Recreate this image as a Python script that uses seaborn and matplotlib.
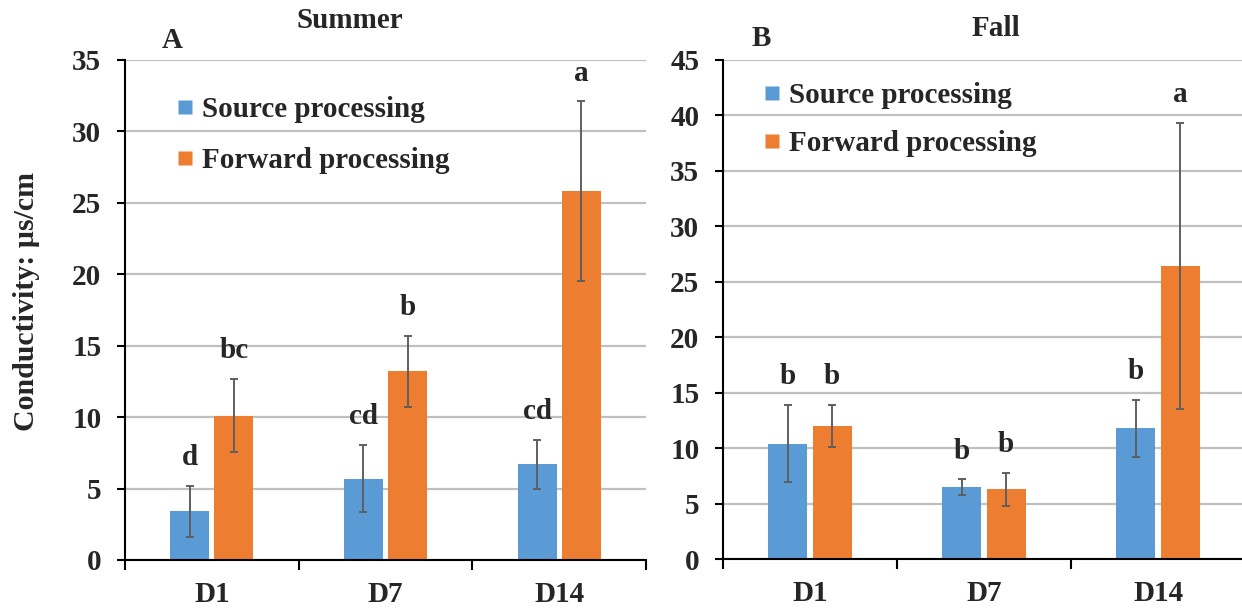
import matplotlib
matplotlib.use("Agg")
import matplotlib.pyplot as plt
from matplotlib.lines import Line2D
import seaborn as sns
import pandas as pd

# ---------------- data ----------------
days = ["D1", "D7", "D14"]
groups = ["Source processing", "Forward processing"]

summer_source = [3.4, 5.7, 6.7]
summer_source_err = [1.78, 2.37, 1.72]
summer_forward = [10.1, 13.2, 25.8]
summer_forward_err = [2.55, 2.48, 6.3]
summer_source_letters = ["d", "cd", "cd"]
summer_forward_letters = ["bc", "b", "a"]

fall_source = [10.4, 6.45, 11.8]
fall_source_err = [3.47, 0.72, 2.57]
fall_forward = [12.0, 6.28, 26.4]
fall_forward_err = [1.86, 1.46, 12.9]
fall_source_letters = ["b", "b", "b"]
fall_forward_letters = ["b", "b", "a"]

summer_yticks = [0, 5, 10, 15, 20, 25, 30, 35]
fall_yticks = [0, 5, 10, 15, 20, 25, 30, 35, 40, 45]

# ---------------- style ----------------
sns.set_style("white")
plt.rcParams["font.family"] = ["Liberation Serif", "DejaVu Serif"]
plt.rcParams["font.weight"] = "bold"

BLUE = "#5B9BD5"
ORANGE = "#ED7D31"
GRID = "#C0C0C0"
ERR = "#5F5F5F"
FS = 21

W, H = 1242, 611
fig = plt.figure(figsize=(W / 100, H / 100), dpi=100)


def px_axes(l, t, r, b):
    return fig.add_axes([l / W, 1 - b / H, (r - l) / W, (b - t) / H])


def panel(ax, src, src_err, fwd, fwd_err, src_let, fwd_let, yticks, legend_anchor, spacing):
    df = pd.DataFrame({
        "day": days * 2,
        "group": [groups[0]] * 3 + [groups[1]] * 3,
        "value": src + fwd,
    })
    sns.barplot(data=df, x="day", y="value", hue="group", hue_order=groups,
                order=days, palette=[BLUE, ORANGE], width=0.51, gap=0.12,
                errorbar=None, ax=ax, legend=False, saturation=1,
                edgecolor="none", zorder=2)
    errs = [src_err, fwd_err]
    lets = [src_let, fwd_let]
    bar_containers = list(ax.containers)
    for ci, cont in enumerate(bar_containers):
        xs = [p.get_x() + p.get_width() / 2 for p in cont.patches]
        hs = [p.get_height() for p in cont.patches]
        ax.errorbar(xs, hs, yerr=errs[ci], fmt="none", ecolor=ERR,
                    elinewidth=1.4, capsize=3.2, capthick=1.4, zorder=3)
        for x, h, e, t in zip(xs, hs, errs[ci], lets[ci]):
            ax.annotate(t, (x, h + e), xytext=(0, 15), textcoords="offset points",
                        ha="center", va="baseline", fontsize=FS, fontweight="bold")
    ax.set_ylim(yticks[0], yticks[-1])
    ax.set_yticks(yticks)
    ax.set_yticklabels([str(v) for v in yticks], fontsize=FS, fontweight="bold")
    ax.set_xlim(-0.5, 2.5)
    ax.set_xticks([0, 1, 2])
    ax.set_xticklabels(days, fontsize=FS, fontweight="bold")
    ax.set_xticks([-0.5, 0.5, 1.5, 2.5], minor=True)
    ax.tick_params(axis="x", which="major", length=0, pad=15)
    ax.tick_params(axis="x", which="minor", length=7, width=1.5, direction="out", color="black", bottom=True)
    ax.tick_params(axis="y", length=6, width=1.5, direction="out", color="black", pad=11, left=True)
    ax.set_xlabel("")
    ax.set_ylabel("")
    ax.yaxis.grid(True, color=GRID, linewidth=1.6, zorder=0)
    ax.xaxis.grid(False)
    ax.set_axisbelow(True)
    for s in ["top", "right"]:
        ax.spines[s].set_visible(False)
    for s in ["left", "bottom"]:
        ax.spines[s].set_color("black")
        ax.spines[s].set_linewidth(1.5)
        ax.spines[s].set_zorder(4)
    handles = [Line2D([], [], marker="s", linestyle="none", markersize=10,
                      markerfacecolor=c, markeredgecolor="none") for c in (BLUE, ORANGE)]
    ax.legend(handles, groups, loc="upper left", bbox_to_anchor=legend_anchor,
              frameon=False, handlelength=0.6, handletextpad=0.3,
              labelspacing=spacing, borderaxespad=0, borderpad=0,
              prop={"size": FS, "weight": "bold"})


ax1 = px_axes(125, 60, 646, 560)
panel(ax1, summer_source, summer_source_err, summer_forward, summer_forward_err,
      summer_source_letters, summer_forward_letters, summer_yticks, (0.098, 0.928), 0.84)

ax2 = px_axes(723, 60, 1245, 559)
panel(ax2, fall_source, fall_source_err, fall_forward, fall_forward_err,
      fall_source_letters, fall_forward_letters, fall_yticks, (0.077, 0.955), 0.70)

fig.text(350 / W, 1 - 20 / H, "Summer", ha="center", va="center", fontsize=FS, fontweight="bold")
fig.text(172 / W, 1 - 41 / H, "A", ha="center", va="center", fontsize=FS, fontweight="bold")
fig.text(996 / W, 1 - 28 / H, "Fall", ha="center", va="center", fontsize=FS, fontweight="bold")
fig.text(761 / W, 1 - 39 / H, "B", ha="center", va="center", fontsize=FS, fontweight="bold")
fig.text(27 / W, 1 - 302 / H, "Conductivity: µs/cm", rotation=90, ha="center", va="center",
         fontsize=21.5, fontweight="bold")

fig.savefig("out.png", dpi=100, facecolor="white")
